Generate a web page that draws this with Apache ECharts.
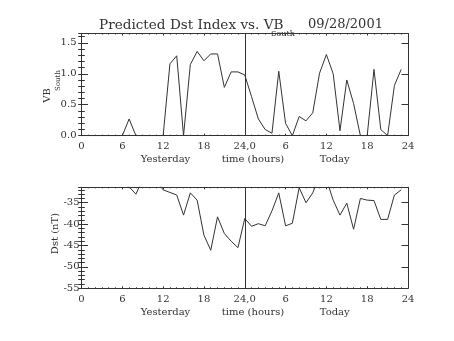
<!DOCTYPE html>
<html><head><meta charset="utf-8">
<script src="https://cdn.jsdelivr.net/npm/echarts@6/dist/echarts.min.js"></script>
<style>html,body{margin:0;padding:0;background:#fff}#c{width:454px;height:341px}</style>
</head><body><div id="c"></div>
<script>
const hours = [0,1,2,3,4,5,6,7,8,9,10,11,12,13,14,15,16,17,18,19,20,21,22,23,
               24,25,26,27,28,29,30,31,32,33,34,35,36,37,38,39,40,41,42,43,44,45,46,47];
const vbSouth = [0,0,0,0,0,0,0,0.27,0,0,0,0,0,1.16,1.29,0,1.15,1.36,1.21,1.32,1.32,0.78,1.03,1.03,
                 0.98,0.63,0.27,0.10,0.04,1.04,0.20,0,0.31,0.24,0.37,1.01,1.31,1.00,0.08,0.90,0.52,0,0,1.07,0.10,0,0.81,1.07];
const dst = [-30,-30,-30,-30,-30,-30,-30.5,-31.3,-33.0,-29.5,-29,-29.8,-32.0,-32.6,-33.2,-37.9,-32.7,-34.4,-42.6,-46.1,-38.3,-42.2,-44.0,-45.5,
             -38.7,-40.5,-39.9,-40.4,-36.9,-32.7,-40.4,-39.8,-31.5,-35.0,-32.7,-28.5,-29.5,-34.4,-37.9,-35.1,-41.2,-34.0,-34.4,-34.5,-38.9,-38.9,-33.2,-32.0];
const xTickLabels = ['0','6','12','18','24,0','6','12','18','24'];
const dayBoundary = 24;
const titleMain = 'Predicted Dst Index vs. VB';
const titleSub = 'South';
const titleDate = '09/28/2001';
const xNames = ['Yesterday','time (hours)','Today'];
const topYName = ['VB','South'];
const botYName = 'Dst (nT)';

const FONT = '"DejaVu Serif", "Liberation Serif", serif';
const INK = '#333';
const LINE = '#333';

const grids = [
  {left: 81.5, right: 46, top: 33.5, height: 102.2},
  {left: 81.5, right: 46, top: 187.3, height: 101}
];

function xAxes(gi) {
  const base = {
    type: 'value', gridIndex: gi, min: 0, max: 48, interval: 6,
    axisLine: {onZero: false, lineStyle: {color: LINE, width: 1}},
    splitLine: {show: false},
    axisTick: {inside: true, length: 2, lineStyle: {color: LINE}},
    minorTick: {show: true, splitNumber: 6, length: 1, lineStyle: {color: LINE}}
  };
  return [
    Object.assign({}, base, {position: 'bottom',
      axisLabel: {margin: 6, fontFamily: FONT, fontSize: 10, color: INK,
        formatter: v => xTickLabels[Math.round(v / 6)]}}),
    Object.assign({}, base, {position: 'top', axisLabel: {show: false}})
  ];
}
function yAxes(gi, min, max, interval, minor, fmt, margin) {
  const common = {type: 'value', gridIndex: gi, min: min, max: max, splitLine: {show: false}};
  return [
    Object.assign({}, common, {position: 'left', interval: interval,
      axisLine: {onZero: false, lineStyle: {color: LINE}},
      axisTick: {inside: true, length: 6.5, lineStyle: {color: LINE}},
      axisLabel: {margin: margin, fontFamily: FONT, fontSize: 10, color: INK, showMaxLabel: false, formatter: fmt}}),
    Object.assign({}, common, {position: 'left', interval: minor,
      axisLine: {show: false},
      axisTick: {inside: true, length: 3.3, lineStyle: {color: LINE}},
      axisLabel: {show: false}}),
    Object.assign({}, common, {position: 'right', interval: interval,
      axisLine: {onZero: false, lineStyle: {color: LINE}},
      axisTick: {inside: true, length: 6.5, lineStyle: {color: LINE}},
      axisLabel: {show: false}}),
    Object.assign({}, common, {position: 'right', interval: minor,
      axisLine: {show: false},
      axisTick: {inside: true, length: 3.3, lineStyle: {color: LINE}},
      axisLabel: {show: false}})
  ];
}

function txt(x, y, text, size, rot) {
  return {type: 'text', x: x, y: y, rotation: rot || 0, silent: true,
    style: {text: text, font: size + 'px ' + FONT, fill: INK,
      align: 'center', verticalAlign: 'middle', textAlign: 'center', textVerticalAlign: 'middle'}};
}
function txtL(x, y, text, size) {
  return {type: 'text', x: x, y: y, silent: true,
    style: {text: text, font: size + 'px ' + FONT, fill: INK,
      align: 'left', verticalAlign: 'middle', textAlign: 'left', textVerticalAlign: 'middle'}};
}

const vline = {
  silent: true, symbol: 'none', animation: false, label: {show: false},
  lineStyle: {color: LINE, width: 1, type: 'solid'},
  data: [{xAxis: dayBoundary}]
};

const option = {
  animation: false,
  backgroundColor: '#fff',
  grid: grids,
  xAxis: [].concat(xAxes(0), xAxes(1)),
  yAxis: [].concat(
    yAxes(0, 0, 1.65, 0.5, 0.1, v => v.toFixed(1), 5),
    yAxes(1, -55, -31.4, 5, 1, v => String(Math.round(v)), 2)
  ),
  series: [
    {type: 'line', xAxisIndex: 0, yAxisIndex: 0, data: hours.map((h, i) => [h, vbSouth[i]]),
     showSymbol: false, clip: true, lineStyle: {color: LINE, width: 1}, markLine: vline},
    {type: 'line', xAxisIndex: 2, yAxisIndex: 4, data: hours.map((h, i) => [h, dst[i]]),
     showSymbol: false, clip: true, lineStyle: {color: LINE, width: 1}, markLine: vline}
  ],
  graphic: [
    txtL(99, 25, titleMain, 13.6),
    txtL(271, 33.7, titleSub, 8),
    txtL(308, 25, titleDate, 13),
    txt(165.5, 159, xNames[0], 10),
    txt(253, 159, xNames[1], 10),
    txt(334.7, 159, xNames[2], 10),
    txt(165.5, 312, xNames[0], 10),
    txt(253, 312, xNames[1], 10),
    txt(334.7, 312, xNames[2], 10),
    txt(47, 95.5, topYName[0], 10, Math.PI / 2),
    txt(58.3, 80.5, topYName[1], 7, Math.PI / 2),
    txt(55.5, 233.5, botYName, 10, Math.PI / 2)
  ]
};
const chart = echarts.init(document.getElementById('c'), null, {renderer: 'canvas'});
chart.setOption(option);
</script>
</body></html>
